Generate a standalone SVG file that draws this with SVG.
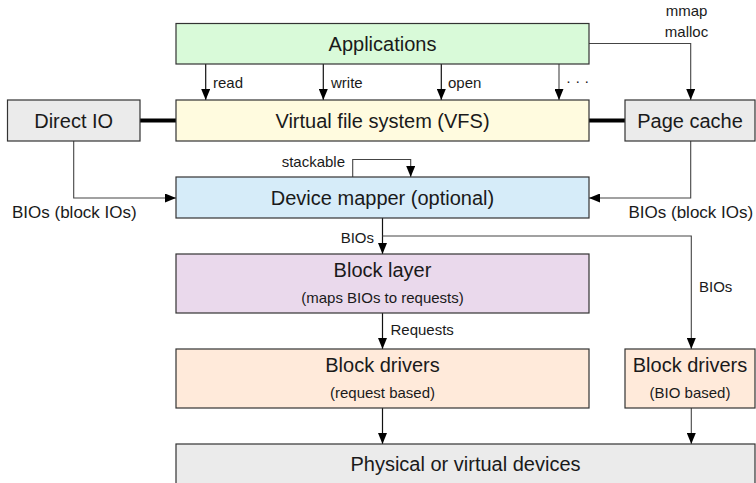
<svg xmlns="http://www.w3.org/2000/svg" width="756" height="483" viewBox="0 0 756 483">
<style>
  .box { stroke: #333; stroke-width: 1.2; }
  .t { font-family: "Liberation Sans", Arial, sans-serif; font-size: 20px; fill: #1a1a1a; text-anchor: middle; }
  .s { font-family: "Liberation Sans", Arial, sans-serif; font-size: 15px; fill: #1a1a1a; }
  .sub { font-family: "Liberation Sans", Arial, sans-serif; font-size: 15px; fill: #1a1a1a; text-anchor: middle; }
  .c { fill: none; stroke: #111; stroke-width: 1.2; }
  .g { fill: none; stroke: #444; stroke-width: 1.1; }
  .thick { fill: none; stroke: #000; stroke-width: 4; }
</style>
<defs>
  <marker id="ah" viewBox="0 0 11 9" markerWidth="11" markerHeight="9" refX="11" refY="4.5" orient="auto" markerUnits="userSpaceOnUse">
    <path d="M0,0 L11,4.5 L0,9 z" fill="#000"/>
  </marker>
</defs>
<rect width="756" height="483" fill="#fff"/>

<g id="connectors">
  <line class="thick" x1="140" y1="120.5" x2="176" y2="120.5"/>
  <line class="thick" x1="589" y1="120.5" x2="625" y2="120.5"/>
  <path class="c" d="M205.7,64 V100" marker-end="url(#ah)"/>
  <path class="c" d="M323.3,64 V100" marker-end="url(#ah)"/>
  <path class="c" d="M441.3,64 V100" marker-end="url(#ah)"/>
  <path class="g" d="M559,64 V100" marker-end="url(#ah)"/>
  <path class="g" d="M589,43.5 H690.7 V100" marker-end="url(#ah)"/>
  <path class="g" d="M73.7,141 V198 H176" marker-end="url(#ah)"/>
  <path class="g" d="M690.7,141 V198 H589" marker-end="url(#ah)"/>
  <path class="g" d="M352.7,177 V159.5 H410.7 V177" marker-end="url(#ah)"/>
  <path class="c" d="M382.5,218 V254" marker-end="url(#ah)"/>
  <path class="g" d="M382.5,236 H691.3 V349" marker-end="url(#ah)"/>
  <path class="c" d="M382.5,313 V349" marker-end="url(#ah)"/>
  <path class="c" d="M382.5,408 V444" marker-end="url(#ah)"/>
  <path class="g" d="M691.3,408 V444" marker-end="url(#ah)"/>
  <text class="s" x="213" y="88">read</text>
  <text class="s" x="331" y="88">write</text>
  <text class="s" x="448" y="88">open</text>
  <text class="s" x="566" y="86">· · ·</text>
  <text class="s" x="686.5" y="16" text-anchor="middle">mmap</text>
  <text class="s" x="686.5" y="37" text-anchor="middle">malloc</text>
  <text class="s" x="345" y="166.5" text-anchor="end">stackable</text>
  <text class="s" x="12" y="218" style="font-size:17px">BIOs (block IOs)</text>
  <text class="s" x="628.5" y="218" style="font-size:17px">BIOs (block IOs)</text>
  <text class="s" x="374" y="242.5" text-anchor="end">BIOs</text>
  <text class="s" x="390.5" y="335">Requests</text>
  <text class="s" x="699" y="292">BIOs</text>
</g>

<g id="applications">
  <rect class="box" x="176" y="23.5" width="413" height="40.5" fill="#d9fad9"/>
  <text class="t" x="382.5" y="50.5">Applications</text>
</g>
<g id="vfs">
  <rect class="box" x="176" y="100" width="413" height="41" fill="#fffbdf"/>
  <text class="t" x="382.5" y="127.5">Virtual file system (VFS)</text>
</g>
<g id="direct-io">
  <rect class="box" x="7.5" y="100" width="132.5" height="41" fill="#ebebeb"/>
  <text class="t" x="73.7" y="127.5">Direct IO</text>
</g>
<g id="page-cache">
  <rect class="box" x="625" y="100" width="130" height="41" fill="#ebebeb"/>
  <text class="t" x="690" y="127.5">Page cache</text>
</g>
<g id="device-mapper">
  <rect class="box" x="176" y="177" width="413" height="41" fill="#d6ecf9"/>
  <text class="t" x="382.5" y="204.5">Device mapper (optional)</text>
</g>
<g id="block-layer">
  <rect class="box" x="176" y="254" width="413" height="59" fill="#ead9ec"/>
  <text class="t" x="382.5" y="277">Block layer</text>
  <text class="sub" x="382.5" y="303">(maps BIOs to requests)</text>
</g>
<g id="block-drivers-request">
  <rect class="box" x="176" y="349" width="413" height="59" fill="#ffeada"/>
  <text class="t" x="382.5" y="372">Block drivers</text>
  <text class="sub" x="382.5" y="398">(request based)</text>
</g>
<g id="block-drivers-bio">
  <rect class="box" x="625" y="349" width="130" height="59" fill="#ffeada"/>
  <text class="t" x="690" y="372">Block drivers</text>
  <text class="sub" x="690" y="398">(BIO based)</text>
</g>
<g id="physical-devices">
  <rect class="box" x="176" y="444" width="579" height="45" fill="#ebebeb"/>
  <text class="t" x="465.5" y="471">Physical or virtual devices</text>
</g>
</svg>
